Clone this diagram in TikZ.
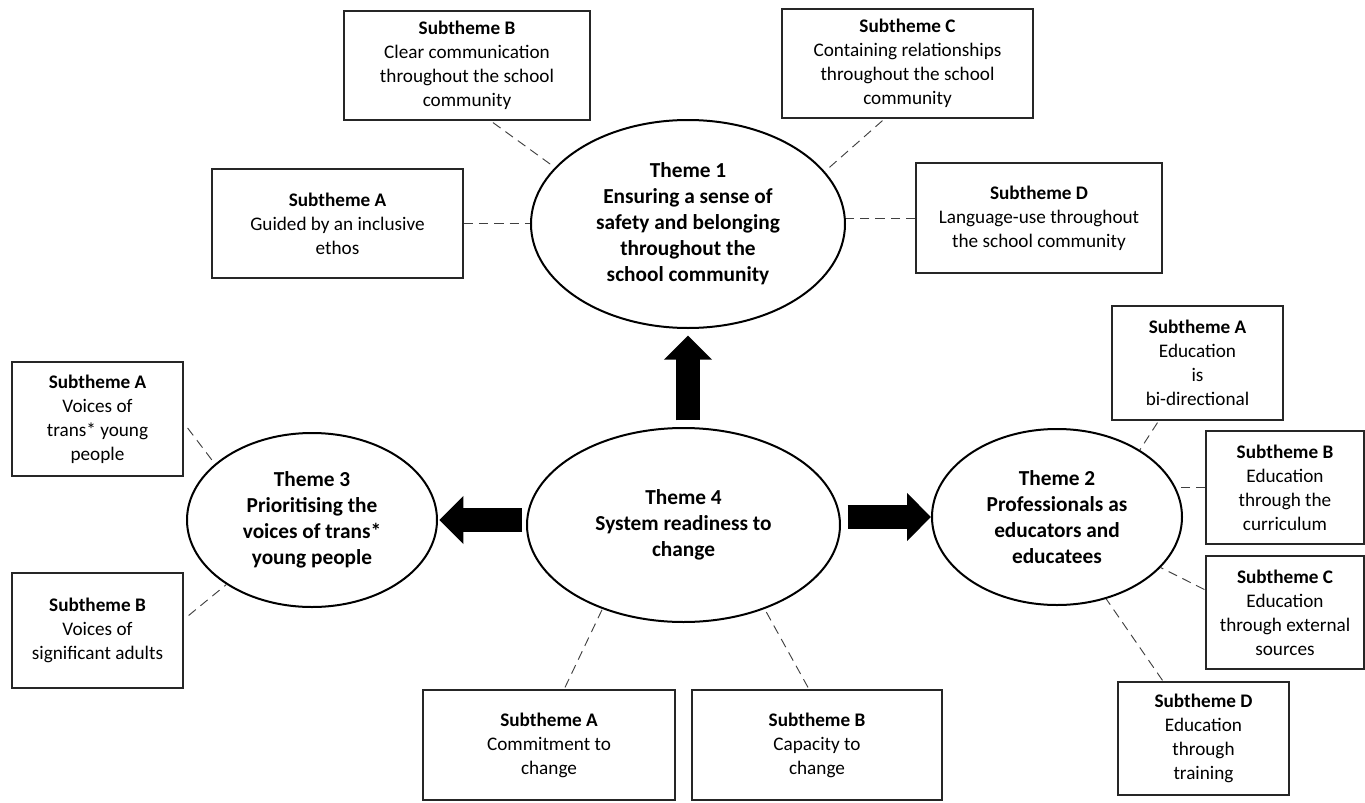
\documentclass[tikz,border=0pt]{standalone}
\usepackage{fontspec}
\setmainfont{Carlito}
\usepackage{tikz}
\usetikzlibrary{shapes.geometric,arrows.meta,calc}

\begin{document}
\begin{tikzpicture}[x=0.75pt,y=0.75pt,yscale=-1,xscale=1,
  themeoval/.style={ellipse, draw, line width=1.5pt, inner sep=0pt, align=center, font=\fontsize{16}{19.5}\selectfont\bfseries},
  subbox/.style={rectangle, draw=black!85, line width=0.9pt, inner sep=0pt, align=center, font=\fontsize{14.4}{18}\selectfont},
  dashline/.style={draw=black!75, line width=0.7pt, dash pattern=on 7pt off 4.5pt},
  bigarrow/.style={line width=18pt, -{Triangle[length=18pt,width=35pt]}}]
%set diagram left start at 0, and has height of 803
\useasboundingbox (0,0) rectangle (1365,803);

%Shape: Ellipse [Theme 1]
\node[themeoval, minimum width=235.5pt, minimum height=156pt] (t1) at (688,224) {Theme 1\\Ensuring a sense of\\safety and belonging\\throughout the\\school community};
%Shape: Ellipse [Theme 2]
\node[themeoval, minimum width=187.5pt, minimum height=132pt] (t2) at (1057,517) {Theme 2\\Professionals as\\educators and\\educatees};
%Shape: Ellipse [Theme 3]
\node[themeoval, minimum width=187.5pt, minimum height=130.5pt] (t3) at (312,520) {Theme 3\\Prioritising the\\voices of trans*\\young people};
%Shape: Ellipse [Theme 4]
\node[themeoval, minimum width=234.75pt, minimum height=145.5pt] (t4) at (683.5,525) {Theme 4\\System readiness to\\change};

%Shape: Rectangle [Theme 1 subthemes]
\node[subbox, minimum width=184.5pt, minimum height=81.75pt] (t1sb) at (467,65.5) {\textbf{Subtheme B}\\Clear communication\\throughout the school\\community};
\node[subbox, minimum width=188.25pt, minimum height=81.75pt] (t1sc) at (907.5,63.5) {\textbf{Subtheme C}\\Containing relationships\\throughout the school\\community};
\node[subbox, minimum width=188.25pt, minimum height=81.75pt] (t1sa) at (337.5,223.5) {\textbf{Subtheme A}\\Guided by an inclusive\\ethos};
\node[subbox, minimum width=184.5pt, minimum height=82.5pt] (t1sd) at (1039,218) {\textbf{Subtheme D}\\Language-use throughout\\the school community};
%Shape: Rectangle [Theme 2 subthemes]
\node[subbox, minimum width=128.25pt, minimum height=85.5pt] (t2sa) at (1197.5,363) {\textbf{Subtheme A}\\Education\\is\\bi-directional};
\node[subbox, minimum width=118.5pt, minimum height=84.75pt] (t2sb) at (1285,487.5) {\textbf{Subtheme B}\\Education\\through the\\curriculum};
\node[subbox, minimum width=118.5pt, minimum height=84.75pt] (t2sc) at (1285,612.5) {\textbf{Subtheme C}\\Education\\through external\\sources};
\node[subbox, minimum width=128.25pt, minimum height=84.75pt] (t2sd) at (1203.5,738.5) {\textbf{Subtheme D}\\Education\\through\\training};
%Shape: Rectangle [Theme 3 subthemes]
\node[subbox, minimum width=128.25pt, minimum height=85.5pt] (t3sa) at (97.5,419) {\textbf{Subtheme A}\\Voices of\\trans* young\\people};
\node[subbox, minimum width=128.25pt, minimum height=86.25pt] (t3sb) at (97.5,630.5) {\textbf{Subtheme B}\\Voices of\\significant adults};
%Shape: Rectangle [Theme 4 subthemes]
\node[subbox, minimum width=189pt, minimum height=82.5pt] (t4sa) at (549,745) {\textbf{Subtheme A}\\Commitment to\\change};
\node[subbox, minimum width=187.5pt, minimum height=82.5pt] (t4sb) at (817,745) {\textbf{Subtheme B}\\Capacity to\\change};

%Straight Lines [dashed, theme 1]
\draw[dashline] ($(t1sb.south)+(26,2)$) -- (t1.157);
\draw[dashline] ($(t1sc.south)+(-25,2)$) -- (t1.21);
\draw[dashline] (t1sa.east) -- (t1sa.east -| t1.west);
\draw[dashline] (t1sd.west) -- (t1sd.west -| t1.east);
%Straight Lines [dashed, theme 2]
\draw[dashline] ($(t2sa.south)+(-40,2)$) -- (t2.39);
\draw[dashline] (t2sb.west) -- (t2sb.west -| t2.15);
\draw[dashline] ($(t2sc.west)+(-1,-23)$) -- (t2.-26);
\draw[dashline] ($(t2sd.north)+(-41,-1)$) -- (t2.-59);
%Straight Lines [dashed, theme 3]
\draw[dashline] ($(t3sa.east)+(4,9)$) -- (t3.150);
\draw[dashline] ($(t3sb.east)+(5,-15)$) -- (t3.217);
%Straight Lines [dashed, theme 4]
\draw[dashline] ($(t4sa.north)+(16,-2)$) -- (t4.226);
\draw[dashline] ($(t4sb.north)+(-9,-2)$) -- (t4.-46);

%Block Arrows
\draw[bigarrow, shorten <=5pt, shorten >=5pt] (t1.south |- t4.north) -- (t1.south);
\draw[bigarrow, shorten <=3pt, shorten >=1pt] (t4.west |- t3.east) -- (t3.east);
\draw[bigarrow, shorten <=5pt] (t4.east |- t2.west) -- (t2.west);
\end{tikzpicture}
\end{document}
